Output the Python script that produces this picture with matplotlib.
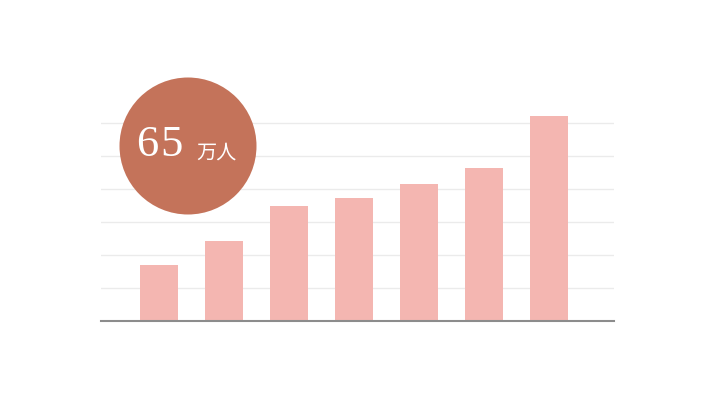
import matplotlib
matplotlib.use("Agg")
import matplotlib.pyplot as plt
from matplotlib.patches import Ellipse

# data (arbitrary units: gridline step = 10)
categories = ["1", "2", "3", "4", "5", "6", "7"]
values = [17.0, 24.2, 34.9, 37.3, 41.5, 46.4, 62.0]
badge_number = "65"
badge_unit = "万人"

W, H = 720, 400
fig = plt.figure(figsize=(7.2, 4.0), dpi=100)
fig.patch.set_facecolor("white")

ax_l, ax_r = 101, 614
ax_top, ax_bot = 100, 320.7
ax = fig.add_axes([ax_l / W, 1 - ax_bot / H, (ax_r - ax_l) / W, (ax_bot - ax_top) / H])
x = range(len(categories))
ax.bar(x, values, width=0.58, color="#F4B6B1", zorder=3)
ax.set_xlim(-0.89, 7.0)
ax.set_ylim(0, (ax_bot - ax_top) / 33 * 10)
ax.set_yticks([10, 20, 30, 40, 50, 60])
ax.yaxis.grid(True, color="#EBEBEB", linewidth=1.0, zorder=0)
ax.tick_params(left=False, bottom=False, labelleft=False, labelbottom=False)
for s in ["top", "left", "right"]:
    ax.spines[s].set_visible(False)
ax.spines["bottom"].set_color("#8C8C8C")
ax.spines["bottom"].set_linewidth(1.5)
ax.spines["bottom"].set_zorder(4)
ax.set_facecolor("none")

# badge circle
cx, cy, r = 188, 146, 68.5
circ = Ellipse((cx / W, 1 - cy / H), 2 * r / W, 2 * r / H, transform=fig.transFigure,
               facecolor="#C4735A", edgecolor="none", zorder=10)
fig.patches.append(circ)

for i, ch in enumerate(badge_number):
    fig.text((136 + 24 * i) / W, 1 - 156 / H, ch, transform=fig.transFigure,
             ha="left", va="baseline", color="white", fontsize=32,
             family=["Liberation Serif", "DejaVu Serif"], zorder=11)
fig.text(196 / W, 1 - 159 / H, badge_unit, transform=fig.transFigure,
         ha="left", va="baseline", color="white", fontsize=14.5,
         family=["Noto Sans CJK JP", "DejaVu Sans"], zorder=11)

fig.savefig("out.png", dpi=100, facecolor="white")
